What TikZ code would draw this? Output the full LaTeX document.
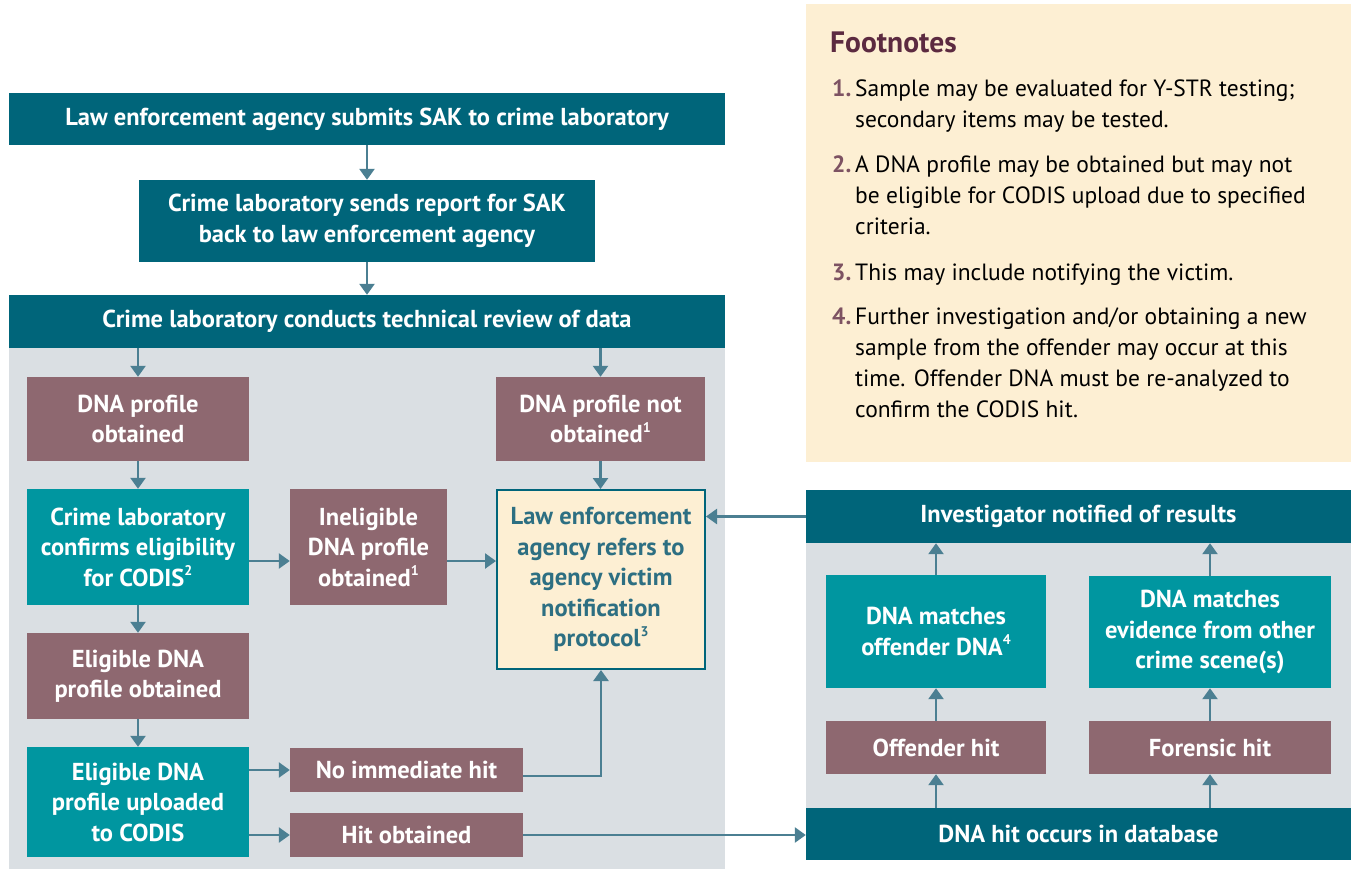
\documentclass[tikz,border=0pt]{standalone}
\usepackage{fontspec}
\setmainfont{PT Sans}
\usetikzlibrary{arrows.meta}
\definecolor{darkteal}{RGB}{0,101,122}
\definecolor{tealbox}{RGB}{0,150,160}
\definecolor{mauve}{RGB}{142,104,112}
\definecolor{fnumc}{RGB}{125,82,98}
\definecolor{panelgray}{RGB}{218,223,227}
\definecolor{cream}{RGB}{253,239,211}
\definecolor{arrowc}{RGB}{75,127,146}
\definecolor{noteteal}{RGB}{45,111,130}
\definecolor{maroon}{RGB}{92,42,64}
\newcommand\bx[7]{\node[#6, minimum width={(#4-#2)*1pt}, minimum height={(#5-#3)*1pt}] (#1) at ({(#2+#4)/2},{(#3+#5)/2}) {#7};}
\newcommand\flines[1]{\vtop{\baselineskip=31.2pt \lineskiplimit=-100pt #1}}
\newcommand\sps[1]{\raisebox{0.42em}{\fontsize{14}{14}\selectfont #1}}
\begin{document}
\begin{tikzpicture}[x=1pt,y=-1pt,
  base/.style={inner sep=0pt, align=center, font=\bfseries\fontsize{24.5}{30.5}\selectfont},
  dark/.style={base, fill=darkteal, text=white},
  tealb/.style={base, fill=tealbox, text=white},
  mauveb/.style={base, fill=mauve, text=white},
  notebox/.style={base, fill=cream, draw=darkteal, line width=2pt, text=noteteal},
  panel/.style={fill=panelgray, inner sep=0pt},
  footbg/.style={fill=cream, inner sep=0pt},
  arr/.style={draw=arrowc, line width=2.5pt, -{Triangle[width=15pt,length=11pt]}},
  fnum/.style={inner sep=0pt, anchor=base west, text=fnumc, font=\bfseries\fontsize{23.5}{31.2}\selectfont},
  ftext/.style={inner sep=0pt, anchor=base west, text=black, font=\fontsize{23.5}{31.2}\selectfont},
]
\useasboundingbox (0,0) rectangle (1351,871);
% panels
\bx{panelL}{9}{348}{725}{869}{panel}{}
\bx{panelR}{806}{543}{1351}{808}{panel}{}
\bx{foot}{806}{4}{1351}{462}{footbg}{}
% left column
\bx{A}{9}{93}{725}{145}{dark}{Law enforcement agency submits SAK to crime laboratory}
\bx{B}{139}{180}{595}{262}{dark}{Crime laboratory sends report for SAK\\back to law enforcement agency}
\bx{C}{9}{295}{725}{348}{dark}{Crime laboratory conducts technical review of data}
\bx{D1}{27}{377}{249}{461}{mauveb}{DNA profile\\obtained}
\bx{D2}{496}{377}{705}{461}{mauveb}{DNA profile not\\obtained\sps{1}}
\bx{E}{27}{489}{249}{605}{tealb}{Crime laboratory\\confirms eligibility\\for CODIS\sps{2}}
\bx{F}{290}{489}{447}{605}{mauveb}{Ineligible\\DNA profile\\obtained\sps{1}}
\bx{G}{497}{490}{705}{669}{notebox}{Law enforcement\\agency refers to\\agency victim\\notification\\protocol\sps{3}}
\bx{H}{27}{633}{249}{719}{mauveb}{Eligible DNA\\profile obtained}
\bx{I}{27}{747}{249}{857}{tealb}{Eligible DNA\\profile uploaded\\to CODIS}
\bx{J}{290}{748}{523}{792}{mauveb}{No immediate hit}
\bx{K}{290}{813}{523}{857}{mauveb}{Hit obtained}
% right column
\bx{M}{806}{490}{1351}{543}{dark}{Investigator notified of results}
\bx{N}{826}{575}{1046}{688}{tealb}{DNA matches\\offender DNA\sps{4}}
\bx{O}{1089}{576}{1331}{688}{tealb}{DNA matches\\evidence from other\\crime scene(s)}
\bx{P}{826}{721}{1046}{774}{mauveb}{Offender hit}
\bx{Q}{1089}{721}{1331}{774}{mauveb}{Forensic hit}
\bx{L}{806}{808}{1351}{860}{dark}{DNA hit occurs in database}
% footnotes
\node[inner sep=0pt, anchor=base west, text=maroon, font=\bfseries\fontsize{29.5}{32}\selectfont] (ftitle) at (830,52) {Footnotes};
\node[fnum] (n1) at (832,96) {1.};
\node[ftext] (t1) at (855,96) {\flines{\hbox{Sample may be evaluated for Y-STR testing;}\hbox{secondary items may be tested.}}};
\node[fnum] (n2) at (832,172) {2.};
\node[ftext] (t2) at (855,172) {\flines{\hbox{A DNA profile may be obtained but may not}\hbox{be eligible for CODIS upload due to specified}\hbox{criteria.}}};
\node[fnum] (n3) at (832,280) {3.};
\node[ftext] (t3) at (855,280) {This may include notifying the victim.};
\node[fnum] (n4) at (832,324) {4.};
\node[ftext] (t4) at (855,324) {\flines{\hbox{Further investigation and/or obtaining a new}\hbox{sample from the offender may occur at this}\hbox{time. Offender DNA must be re-analyzed to}\hbox{confirm the CODIS hit.}}};
% arrows
\draw[arr] (A.south) -- (B.north);
\draw[arr] (B.south) -- (C.north);
\draw[arr] (D1.north |- C.south) -- (D1.north);
\draw[arr] (D2.north |- C.south) -- (D2.north);
\draw[arr] (D1.south) -- (E.north);
\draw[arr] ([yshift=-14pt]E.east) -- ([yshift=-14pt]F.west);
\draw[arr] ([yshift=-14pt]F.east) -- ([yshift=-14pt]F.east -| G.west);
\draw[arr] (D2.south) -- (D2.south |- G.north);
\draw[arr] (E.south) -- (H.north);
\draw[arr] (H.south) -- (I.north);
\draw[arr] (I.east |- J.west) -- (J.west);
\draw[arr] (I.east |- K.west) -- (K.west);
\draw[arr] ([yshift=-6pt]J.east) -| (G.south);
\draw[arr] (K.east) -- (K.east -| L.west);
\draw[arr] (M.west) -- (M.west -| G.east);
\draw[arr] (P.south |- L.north) -- (P.south);
\draw[arr] (P.north) -- (N.south);
\draw[arr] (N.north) -- (N.north |- M.south);
\draw[arr] (Q.south |- L.north) -- (Q.south);
\draw[arr] (Q.north) -- (O.south);
\draw[arr] (O.north) -- (O.north |- M.south);
\end{tikzpicture}
\end{document}
